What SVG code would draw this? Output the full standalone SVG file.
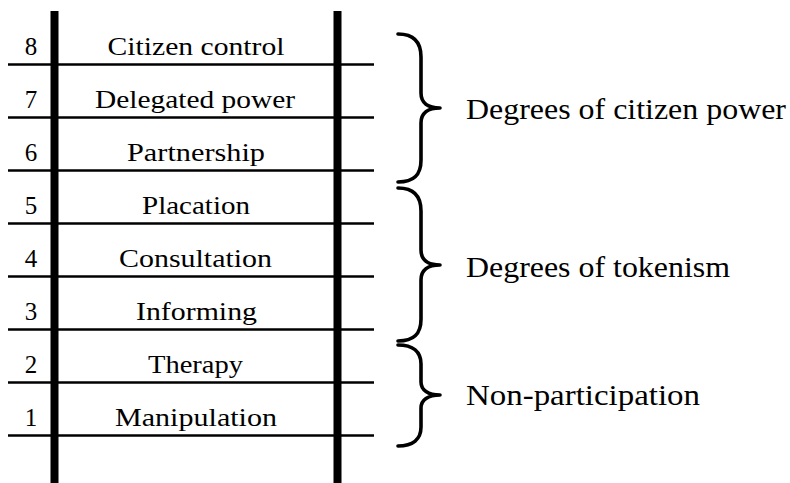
<svg xmlns="http://www.w3.org/2000/svg" width="790" height="483" viewBox="0 0 790 483">
  <style>
    .rail { stroke: #000; stroke-width: 8; fill: none; }
    .rung { stroke: #000; stroke-width: 2.6; fill: none; }
    .brace { stroke: #000; stroke-width: 3.6; fill: none; stroke-linecap: round; stroke-linejoin: round; }
    .num { font-family: "Liberation Serif", "Times New Roman", serif; font-size: 25px; fill: #000; text-anchor: middle; }
    .step { font-family: "Liberation Serif", "Times New Roman", serif; font-size: 26px; fill: #000; text-anchor: middle; }
    .group { font-family: "Liberation Serif", "Times New Roman", serif; font-size: 29px; fill: #000; }
  </style>
  <rect width="790" height="483" fill="#fff"/>

  <!-- ladder rails and rungs -->
  <g id="connectors">
    <line class="rail" x1="54.5" y1="11" x2="54.5" y2="483"/>
    <line class="rail" x1="337.5" y1="11" x2="337.5" y2="483"/>
    <line class="rung" x1="8" y1="64.5" x2="374" y2="64.5"/>
    <line class="rung" x1="8" y1="117.5" x2="374" y2="117.5"/>
    <line class="rung" x1="8" y1="170.5" x2="374" y2="170.5"/>
    <line class="rung" x1="8" y1="223.5" x2="374" y2="223.5"/>
    <line class="rung" x1="8" y1="276.5" x2="374" y2="276.5"/>
    <line class="rung" x1="8" y1="329.5" x2="374" y2="329.5"/>
    <line class="rung" x1="8" y1="382.5" x2="374" y2="382.5"/>
    <line class="rung" x1="8" y1="435.5" x2="374" y2="435.5"/>
  </g>

  <!-- rungs of the ladder, top to bottom -->
  <g id="step8"><text class="num" x="31" y="55">8</text><text class="step" x="196" y="55" textLength="177" lengthAdjust="spacingAndGlyphs">Citizen control</text></g>
  <g id="step7"><text class="num" x="31" y="108">7</text><text class="step" x="195" y="108" textLength="200" lengthAdjust="spacingAndGlyphs">Delegated power</text></g>
  <g id="step6"><text class="num" x="31" y="161">6</text><text class="step" x="196" y="161" textLength="138" lengthAdjust="spacingAndGlyphs">Partnership</text></g>
  <g id="step5"><text class="num" x="31" y="214">5</text><text class="step" x="196" y="214" textLength="108" lengthAdjust="spacingAndGlyphs">Placation</text></g>
  <g id="step4"><text class="num" x="31" y="267">4</text><text class="step" x="195.5" y="267" textLength="153" lengthAdjust="spacingAndGlyphs">Consultation</text></g>
  <g id="step3"><text class="num" x="31" y="320">3</text><text class="step" x="196.5" y="320" textLength="121" lengthAdjust="spacingAndGlyphs">Informing</text></g>
  <g id="step2"><text class="num" x="31" y="373">2</text><text class="step" x="195.5" y="373" textLength="95" lengthAdjust="spacingAndGlyphs">Therapy</text></g>
  <g id="step1"><text class="num" x="31" y="426">1</text><text class="step" x="196" y="426" textLength="162" lengthAdjust="spacingAndGlyphs">Manipulation</text></g>

  <!-- grouping braces with their captions -->
  <g id="citizen-power">
    <path class="brace" d="M398,34 C414,34 421,42 421,57 L421,93 C421,103 428,108 440,108 C428,108 421,113 421,123 L421,160 C421,175 414,182 398,182"/>
    <text class="group" x="466" y="119" textLength="320" lengthAdjust="spacingAndGlyphs">Degrees of citizen power</text>
  </g>
  <g id="tokenism">
    <path class="brace" d="M398,188 C414,188 421,196 421,211 L421,250 C421,260 428,265 440,265 C428,265 421,270 421,280 L421,319 C421,334 414,341 398,341"/>
    <text class="group" x="466" y="277" textLength="264" lengthAdjust="spacingAndGlyphs">Degrees of tokenism</text>
  </g>
  <g id="non-participation">
    <path class="brace" d="M398,345 C413,345 421,352 421,364 L421,382 C421,390 428,395 440,395 C428,395 421,400 421,408 L421,427 C421,439 413,446 398,446"/>
    <text class="group" x="466" y="405" textLength="234" lengthAdjust="spacingAndGlyphs">Non-participation</text>
  </g>
</svg>
